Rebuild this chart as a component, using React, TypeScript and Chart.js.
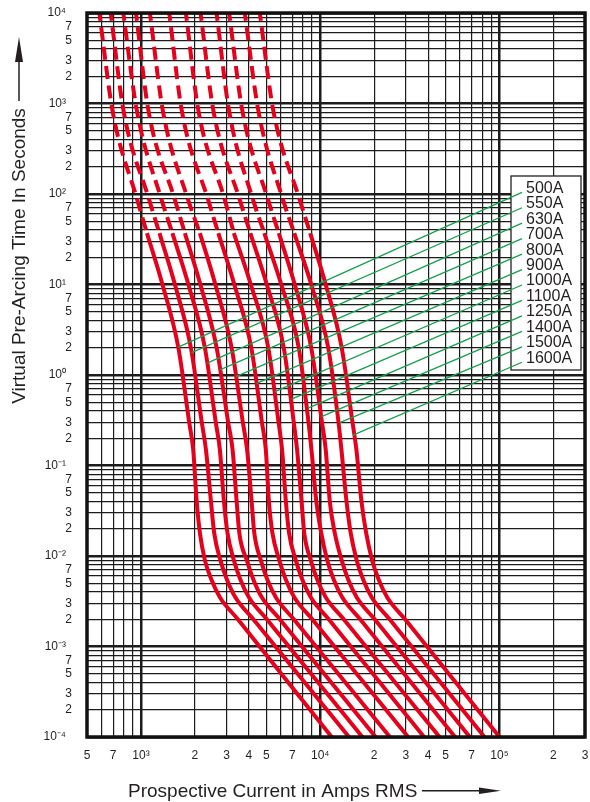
import React, { useEffect, useRef } from 'react';
import { Chart, registerables } from 'chart.js';

Chart.register(...registerables);

// ---------- data ----------
const fuseRatings = ['500A', '550A', '630A', '700A', '800A', '900A', '1000A', '1100A', '1250A', '1400A', '1500A', '1600A'];

// pre-arcing time levels (s) at which the currents of every curve were read
const curveTimes = [10000, 860, 86, 37, 10, 2, 0.3, 0.15, 0.04, 0.018, 0.009, 0.0055, 0.0035, 0.002, 0.0001];
// part of each curve at or above this time is drawn dashed
const dashedAboveTime = 37;

const current500A = [586, 692, 954, 1080, 1318, 1617, 1858, 1956, 2046, 2132, 2273, 2471, 2755, 3471, 11590];
const current550A = [678, 797, 1112, 1268, 1547, 1899, 2184, 2303, 2458, 2561, 2773, 3015, 3361, 4235, 14470];
const current630A = [797, 946, 1304, 1498, 1839, 2273, 2614, 2755, 2904, 3038, 3297, 3584, 3997, 5035, 17190];
const current700A = [938, 1098, 1547, 1758, 2145, 2644, 3065, 3243, 3418, 3538, 3894, 4235, 4722, 5949, 20380];
const current800A = [1122, 1321, 1834, 2132, 2601, 3205, 3701, 3909, 4143, 4288, 4662, 5067, 5651, 7119, 24480];
const current900A = [1438, 1685, 2371, 2702, 3318, 4127, 4729, 4971, 5172, 5411, 5909, 6424, 7164, 9025, 30930];
const current1000A = [1781, 2086, 2938, 3297, 4100, 5132, 5857, 6126, 6433, 6703, 7303, 7940, 8853, 11150, 37960];
const current1100A = [2150, 2528, 3560, 4074, 5035, 6260, 7119, 7427, 7870, 8145, 8851, 9623, 10730, 13520, 46320];
const current1250A = [2641, 3092, 4222, 4875, 6064, 7590, 8605, 8933, 9513, 10130, 10940, 11890, 13260, 16710, 56510];
const current1400A = [3104, 3667, 5120, 5872, 7211, 8910, 10230, 10730, 11310, 12050, 13170, 14320, 15970, 20120, 68310];
const current1500A = [3796, 4503, 6205, 7164, 8912, 11080, 12650, 13130, 14020, 14790, 15970, 17360, 19360, 24390, 82490];
const current1600A = [4603, 5458, 7689, 8796, 10730, 13180, 15140, 15910, 16990, 18040, 19480, 21180, 23620, 29750, 100000];

const fuseCurrents = [
  current500A, current550A, current630A, current700A, current800A, current900A,
  current1000A, current1100A, current1250A, current1400A, current1500A, current1600A,
];

// point on each curve where its green leader line ends
const leaderCurrents = [1614, 1914, 2339, 2754, 3381, 4416, 5585, 6918, 8551, 10160, 12850, 15240];
const leaderTimes = [2.03, 1.77, 1.35, 1.14, 0.96, 0.81, 0.655, 0.54, 0.43, 0.347, 0.298, 0.217];

// axis ticks
const xTickValues = [500, 600, 700, 800, 900, 1000, 2000, 3000, 4000, 5000, 6000, 7000, 8000, 9000,
  10000, 20000, 30000, 40000, 50000, 60000, 70000, 80000, 90000, 100000, 200000, 300000];
const xTickLabels = ['5', '', '7', '', '', '10³', '2', '3', '4', '5', '', '7', '', '',
  '10⁴', '2', '3', '4', '5', '', '7', '', '', '10⁵', '2', '3'];

const yDecadeExponents = [-4, -3, -2, -1, 0, 1, 2, 3, 4];
const yDecadeLabels = ['10⁻⁴', '10⁻³', '10⁻²', '10⁻¹', '10⁰', '10¹', '10²', '10³', '10⁴'];
const yMultipliers = [1, 2, 3, 4, 5, 6, 7, 8, 9];
const yMultiplierLabels = ['', '2', '3', '', '5', '', '7', '', ''];

const xTitle = 'Prospective Current in Amps RMS';
const yTitle = 'Virtual Pre-Arcing Time In Seconds';

// ---------- styling ----------
const FONT = '"Liberation Sans", Arial, Helvetica, sans-serif';
const TEXT = '#231f20';
const RED = '#e5001c';
const GREEN = '#16a04c';

const yTickValues: number[] = [];
const yTickLabels: string[] = [];
yDecadeExponents.forEach((e, i) => {
  yMultipliers.forEach((m, j) => {
    if (e === 4 && m > 1) return;
    yTickValues.push(Number(`${m}e${e}`));
    yTickLabels.push(m === 1 ? yDecadeLabels[i] + '\u2002' : yMultiplierLabels[j]);
  });
});

const isDecade = (v: number) => {
  const l = Math.log10(v);
  return Math.abs(l - Math.round(l)) < 1e-9;
};

const decorPlugin = {
  id: 'decor',
  afterDatasetsDraw(chart: any) {
    const { ctx, chartArea: a, scales } = chart;
    const xs = scales.x;
    const ys = scales.y;
    ctx.save();
    // plot frame
    ctx.strokeStyle = '#111';
    ctx.lineWidth = 3.5;
    ctx.strokeRect(a.left, a.top, a.right - a.left, a.bottom - a.top);

    // legend box
    const boxLeft = 511, boxTop = 176, boxRight = 581, boxBottom = 370;
    const rowTop = 188.3, rowStep = 15.45;
    ctx.fillStyle = '#fff';
    ctx.fillRect(boxLeft, boxTop, boxRight - boxLeft, boxBottom - boxTop);
    ctx.strokeStyle = TEXT;
    ctx.lineWidth = 1.3;
    ctx.strokeRect(boxLeft, boxTop, boxRight - boxLeft, boxBottom - boxTop);

    // leader lines
    ctx.strokeStyle = GREEN;
    ctx.lineWidth = 1.3;
    fuseRatings.forEach((_, i) => {
      const ry = rowTop + rowStep * i;
      ctx.beginPath();
      ctx.moveTo(xs.getPixelForValue(leaderCurrents[i]), ys.getPixelForValue(leaderTimes[i]));
      ctx.lineTo(522, ry + 4);
      ctx.stroke();
    });

    // legend texts
    ctx.fillStyle = TEXT;
    ctx.font = `16px ${FONT}`;
    ctx.textAlign = 'left';
    ctx.textBaseline = 'middle';
    fuseRatings.forEach((r, i) => {
      ctx.fillText(r, 526, rowTop + rowStep * i);
    });
    ctx.restore();
  },
  afterDraw(chart: any) {
    const { ctx } = chart;
    ctx.save();
    ctx.fillStyle = TEXT;
    ctx.strokeStyle = TEXT;
    ctx.font = `19px ${FONT}`;

    // x title + arrow
    ctx.textAlign = 'left';
    ctx.textBaseline = 'alphabetic';
    ctx.fillText(xTitle, 128, 797);
    ctx.lineWidth = 1.5;
    ctx.beginPath();
    ctx.moveTo(422, 790.8);
    ctx.lineTo(482, 790.8);
    ctx.stroke();
    ctx.beginPath();
    ctx.moveTo(479, 787.6);
    ctx.lineTo(501, 790.8);
    ctx.lineTo(479, 794);
    ctx.closePath();
    ctx.fill();

    // y title + arrow
    ctx.save();
    ctx.translate(24.5, 256);
    ctx.rotate(-Math.PI / 2);
    ctx.textAlign = 'center';
    ctx.fillText(yTitle, 0, 0);
    ctx.restore();
    ctx.beginPath();
    ctx.moveTo(19, 101);
    ctx.lineTo(19, 58);
    ctx.stroke();
    ctx.beginPath();
    ctx.moveTo(15, 62);
    ctx.lineTo(19, 37);
    ctx.lineTo(23, 62);
    ctx.closePath();
    ctx.fill();
    ctx.restore();
  },
};

export default function App() {
  const canvasRef = useRef<HTMLCanvasElement | null>(null);

  useEffect(() => {
    if (!canvasRef.current) return;
    const datasets: any[] = [];
    fuseRatings.forEach((r, i) => {
      const pts = curveTimes.map((t, k) => ({ x: fuseCurrents[i][k], y: t }));
      datasets.push({
        label: r + ' (dashed)',
        data: pts.filter((p) => p.y >= dashedAboveTime),
        borderColor: RED,
        borderWidth: 4,
        borderDash: [13, 6.5],
        borderDashOffset: 5,
        borderCapStyle: 'butt',
        pointRadius: 0,
        fill: false,
        cubicInterpolationMode: 'monotone',
      });
      datasets.push({
        label: r,
        data: pts.filter((p) => p.y <= dashedAboveTime),
        borderColor: RED,
        borderWidth: 4,
        pointRadius: 0,
        fill: false,
        cubicInterpolationMode: 'monotone',
      });
    });

    const gridColor = '#1c1c1c';
    const zeroPad = (s: any) => {
      s.paddingTop = 0;
      s.paddingBottom = 0;
      s.paddingLeft = 0;
      s.paddingRight = 0;
    };
    const chart = new Chart(canvasRef.current, {
      type: 'line',
      data: { datasets },
      options: {
        responsive: false,
        devicePixelRatio: 1,
        animation: false,
        events: [],
        layout: { autoPadding: false, padding: { top: 13, right: 5, left: 0, bottom: 0 } },
        plugins: { legend: { display: false }, tooltip: { enabled: false }, title: { display: false } },
        scales: {
          x: {
            type: 'logarithmic',
            min: 500,
            max: 300000,
            afterBuildTicks: (s: any) => {
              s.ticks = xTickValues.map((v) => ({ value: v }));
            },
            afterFit: (s: any) => {
              s.height = 65;
              zeroPad(s);
            },
            ticks: {
              autoSkip: false,
              maxRotation: 0,
              minRotation: 0,
              padding: 11,
              color: TEXT,
              font: { family: FONT, size: 12 },
              callback: (_v: any, i: number) => xTickLabels[i],
            },
            grid: {
              drawTicks: false,
              color: gridColor,
              lineWidth: (c: any) => (c.tick && isDecade(c.tick.value) ? 2.5 : 1.2),
            },
            border: { display: false },
          },
          y: {
            type: 'logarithmic',
            min: 0.0001,
            max: 10000,
            afterBuildTicks: (s: any) => {
              s.ticks = yTickValues.map((v) => ({ value: v }));
            },
            afterFit: (s: any) => {
              s.width = 87;
              zeroPad(s);
            },
            ticks: {
              autoSkip: false,
              padding: 15,
              color: TEXT,
              font: { family: FONT, size: 12 },
              callback: (_v: any, i: number) => yTickLabels[i],
            },
            grid: {
              drawTicks: false,
              color: gridColor,
              lineWidth: (c: any) => (c.tick && isDecade(c.tick.value) ? 2.5 : 1.2),
            },
            border: { display: false },
          },
        },
      },
      plugins: [decorPlugin],
    } as any);
    return () => chart.destroy();
  }, []);

  return (
    <div style={{ position: 'absolute', left: 0, top: 0, width: 590, height: 802, background: '#fff' }}>
      <canvas ref={canvasRef} width={590} height={802} style={{ display: 'block' }} />
    </div>
  );
}
